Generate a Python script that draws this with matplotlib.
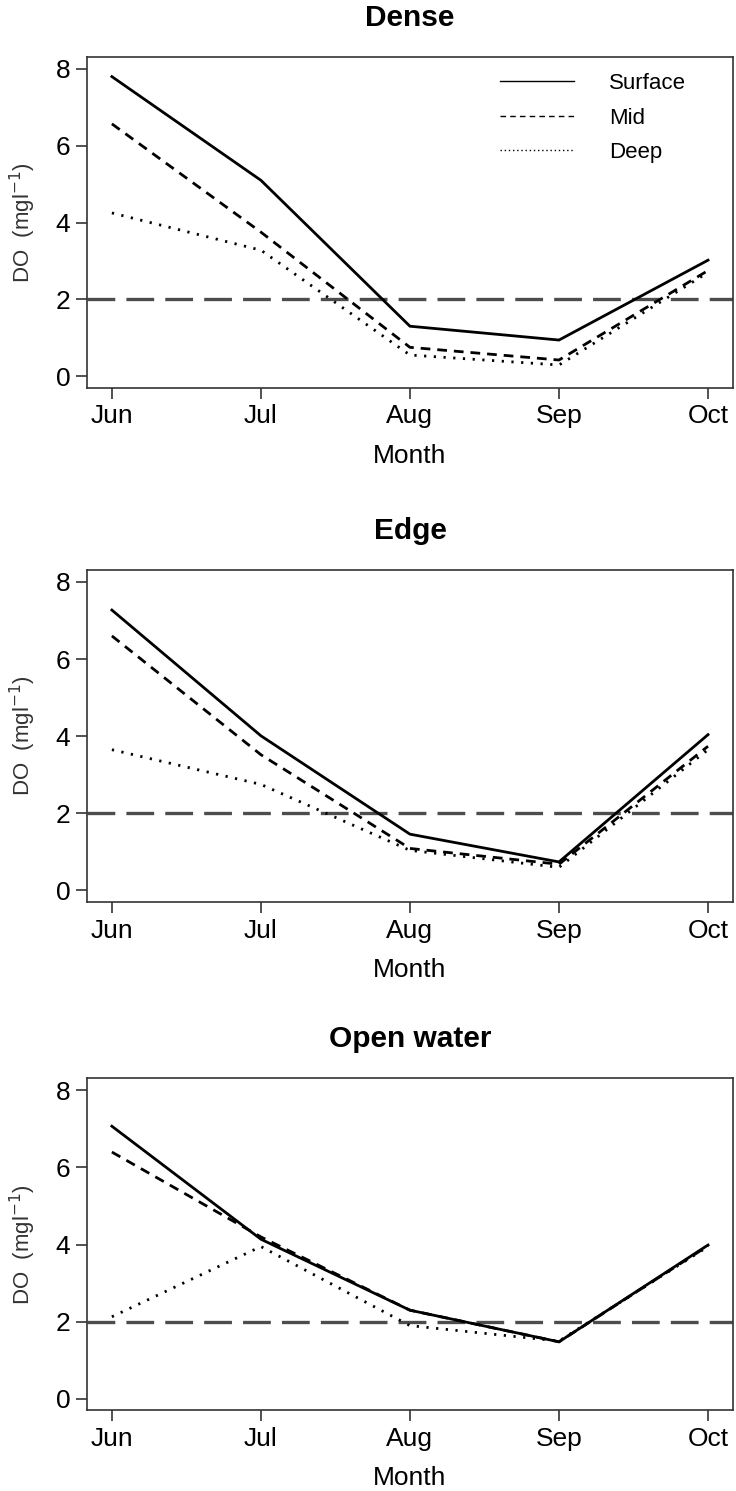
import numpy as np
import matplotlib.pyplot as plt
from matplotlib.lines import Line2D

plt.rcParams['font.family'] = ['Liberation Sans', 'DejaVu Sans']
plt.rcParams['lines.scale_dashes'] = False

# Data
months = ['Jun', 'Jul', 'Aug', 'Sep', 'Oct']
panels = ['Dense', 'Edge', 'Open water']

dense_surface = [7.80, 5.10, 1.30, 0.94, 3.02]
dense_mid = [6.57, 3.75, 0.75, 0.42, 2.75]
dense_deep = [4.25, 3.28, 0.55, 0.29, 2.70]

edge_surface = [7.27, 4.01, 1.46, 0.74, 4.04]
edge_mid = [6.60, 3.52, 1.09, 0.68, 3.74]
edge_deep = [3.65, 2.75, 1.04, 0.60, 3.65]

open_surface = [7.07, 4.14, 2.30, 1.48, 3.99]
open_mid = [6.40, 4.20, 2.30, 1.48, 3.97]
open_deep = [2.13, 3.95, 1.90, 1.50, 3.95]

threshold = 2
yticks = [0, 2, 4, 6, 8]

data = [
    (dense_surface, dense_mid, dense_deep),
    (edge_surface, edge_mid, edge_deep),
    (open_surface, open_mid, open_deep),
]

fig = plt.figure(figsize=(7.36, 14.91), dpi=100)

# axes boxes in figure fractions [left, bottom, width, height]
boxes = [
    [0.118, 0.740, 0.878, 0.222],
    [0.118, 0.395, 0.878, 0.223],
    [0.118, 0.054, 0.878, 0.223],
]

x = np.arange(len(months))
spine_col = '#333333'

for box, title, (surf, mid, deep) in zip(boxes, panels, data):
    ax = fig.add_axes(box)
    ax.axhline(threshold, color='#4d4d4d', lw=2.4, dashes=(20, 8))
    ax.plot(x, surf, color='black', lw=2.0, solid_joinstyle='miter')
    ax.plot(x, mid, color='black', lw=2.0, dashes=(7, 5))
    ax.plot(x, deep, color='black', lw=2.0, dashes=(1.6, 5.4))

    ax.set_xlim(-0.168, 4.168)
    ax.set_ylim(-0.3, 8.32)
    ax.set_xticks(x)
    ax.set_xticklabels(months)
    ax.set_yticks(yticks)
    ax.tick_params(axis='both', labelsize=19, length=8, width=1.2,
                   color=spine_col, pad=4, direction='out')
    for s in ax.spines.values():
        s.set_linewidth(1.2)
        s.set_color(spine_col)

    ax.set_title(title, fontsize=21.5, fontweight='bold', pad=22)
    ax.set_xlabel('Month', fontsize=19, labelpad=11)
    ax.set_ylabel('DO  (mgl$^{-1}$)', fontsize=16, color='#333333')
    ax.yaxis.set_label_coords(-0.075, 0.5)

    if title == 'Dense':
        handles = [
            Line2D([], [], color='black', lw=1),
            Line2D([], [], color='black', lw=1, dashes=(4, 3)),
            Line2D([], [], color='black', lw=1, dashes=(1, 2)),
        ]
        ax.legend(handles, ['Surface', 'Mid', 'Deep'], loc='upper left',
                  bbox_to_anchor=(0.64, 0.95), frameon=False, fontsize=16,
                  handlelength=3.3, handletextpad=1.6, labelspacing=0.6,
                  borderpad=0, borderaxespad=0)

fig.savefig('out.png', dpi=100)
